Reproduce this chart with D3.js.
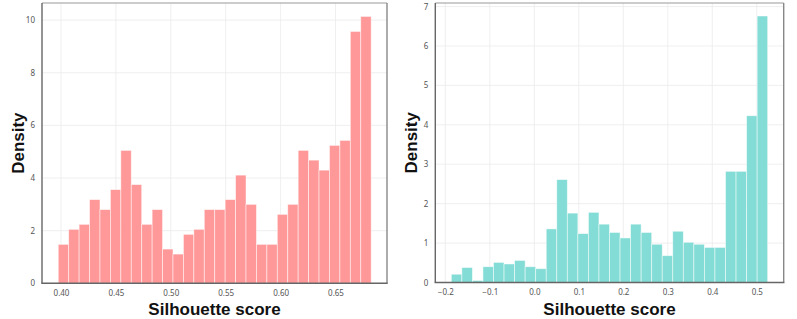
<!DOCTYPE html>
<html>
<head>
<meta charset="utf-8">
<script src="https://cdn.jsdelivr.net/npm/d3@7"></script>
<style>
  body { margin: 0; background: #fff; }
  .tick text { font-family: "Noto Sans", sans-serif; font-size: 8px; fill: #555; }
  .axis-title { font-family: "Liberation Sans", Arial, sans-serif; font-size: 17px; font-weight: bold; fill: #111; }
</style>
</head>
<body>
<svg id="chart" width="797" height="319"></svg>
<script>
// left panel: histogram of silhouette scores
var leftBinStart = 0.3975;
var leftBinWidth = 0.0095;
var leftDensity = [1.48, 2.05, 2.24, 3.18, 2.80, 3.56, 5.05, 3.75, 2.24, 2.80,
                   1.30, 1.11, 1.86, 2.05, 2.80, 2.80, 3.18, 4.11, 3.00, 1.48,
                   1.48, 2.62, 3.00, 5.05, 4.68, 4.30, 5.24, 5.43, 9.57, 10.14];
var leftXTicks = [0.40, 0.45, 0.50, 0.55, 0.60, 0.65];
var leftYTicks = [0, 2, 4, 6, 8, 10];

// right panel
var rightBinStart = -0.1865;
var rightBinWidth = 0.0237;
var rightDensity = [0.21, 0.38, 0.05, 0.40, 0.51, 0.47, 0.56, 0.40, 0.35, 1.36,
                    2.61, 1.76, 1.24, 1.78, 1.48, 1.27, 1.13, 1.48, 1.27, 0.97,
                    0.68, 1.30, 1.02, 0.97, 0.89, 0.89, 2.82, 2.82, 4.23, 6.76];
var rightXTicks = [-0.2, -0.1, 0.0, 0.1, 0.2, 0.3, 0.4, 0.5];
var rightYTicks = [0, 1, 2, 3, 4, 5, 6, 7];

const svg = d3.select("#chart");

function drawPanel(opts) {
  const g = svg.append("g");
  const x = d3.scaleLinear().domain(opts.xDomain).range([opts.left, opts.right]);
  const y = d3.scaleLinear().domain(opts.yDomain).range([opts.bottom, opts.top]);

  // grid
  g.selectAll(".vgrid").data(opts.xTicks).enter().append("line")
    .attr("x1", d => x(d)).attr("x2", d => x(d))
    .attr("y1", opts.top).attr("y2", opts.bottom)
    .attr("stroke", "#ebebeb").attr("stroke-width", 0.8);
  g.selectAll(".hgrid").data(opts.yTicks).enter().append("line")
    .attr("x1", opts.left).attr("x2", opts.right)
    .attr("y1", d => y(d)).attr("y2", d => y(d))
    .attr("stroke", "#ebebeb").attr("stroke-width", 0.8);

  // bars
  g.selectAll(".bar").data(opts.values).enter().append("rect")
    .attr("x", (d, i) => x(opts.binStart + i * opts.binWidth))
    .attr("width", (d, i) => x(opts.binStart + (i + 1) * opts.binWidth) - x(opts.binStart + i * opts.binWidth))
    .attr("y", d => y(d))
    .attr("height", d => y(0) - y(d))
    .attr("fill", opts.color)
    .attr("stroke", "#fff").attr("stroke-width", 0.8).attr("stroke-opacity", 0.6);

  // axes
  const xa = g.append("g").attr("transform", `translate(0,${opts.bottom})`)
    .call(d3.axisBottom(x).tickValues(opts.xTicks).tickSize(0).tickPadding(7).tickFormat(opts.xFormat));
  xa.select(".domain").remove();
  const ya = g.append("g").attr("transform", `translate(${opts.left},0)`)
    .call(d3.axisLeft(y).tickValues(opts.yTicks).tickSize(0).tickPadding(7).tickFormat(d3.format("d")));
  ya.select(".domain").remove();

  // frame
  g.append("line").attr("x1", opts.left).attr("x2", opts.right).attr("y1", opts.top).attr("y2", opts.top)
    .attr("stroke", "#999").attr("stroke-width", 1.2);
  g.append("line").attr("x1", opts.right).attr("x2", opts.right).attr("y1", opts.top).attr("y2", opts.bottom)
    .attr("stroke", "#888").attr("stroke-width", 1.4);
  g.append("line").attr("x1", opts.left).attr("x2", opts.left).attr("y1", opts.top).attr("y2", opts.bottom)
    .attr("stroke", "#666").attr("stroke-width", 1.4);
  g.append("line").attr("x1", opts.left - 0.7).attr("x2", opts.right + 0.7).attr("y1", opts.bottom).attr("y2", opts.bottom)
    .attr("stroke", "#666").attr("stroke-width", 1.4);

  // titles
  g.append("text").attr("class", "axis-title")
    .attr("x", (opts.left + opts.right) / 2).attr("y", 315)
    .attr("text-anchor", "middle").text("Silhouette score");
  g.append("text").attr("class", "axis-title")
    .attr("transform", `translate(${opts.ylabelX},${(opts.top + opts.bottom) / 2}) rotate(-90)`)
    .attr("text-anchor", "middle").text("Density");
}

drawPanel({
  left: 42, right: 387, top: 3, bottom: 283.3,
  xDomain: [0.3827, 0.6969], yDomain: [0, 10.65],
  xTicks: leftXTicks, yTicks: leftYTicks,
  xFormat: d3.format(".2f"),
  binStart: leftBinStart, binWidth: leftBinWidth, values: leftDensity,
  color: "#ff9898", ylabelX: 24
});

drawPanel({
  left: 435.3, right: 783.7, top: 3, bottom: 282.5,
  xDomain: [-0.2225, 0.5605], yDomain: [0, 7.09],
  xTicks: rightXTicks, yTicks: rightYTicks,
  xFormat: d3.format(".1f"),
  binStart: rightBinStart, binWidth: rightBinWidth, values: rightDensity,
  color: "#83dcd5", ylabelX: 417
});
</script>
</body>
</html>
